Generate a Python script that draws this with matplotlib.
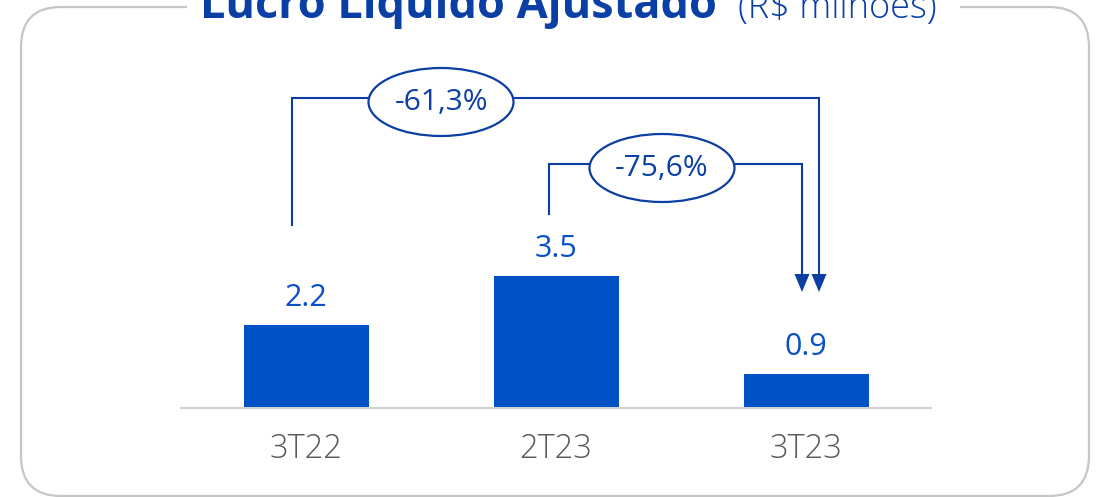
import matplotlib.pyplot as plt
from matplotlib.patches import FancyBboxPatch, Ellipse, Polygon, Rectangle

categories = ['3T22', '2T23', '3T23']
values = [2.2, 3.5, 0.9]
value_labels = ['2.2', '3.5', '0.9']
changes = ['-61,3%', '-75,6%']

W, H = 1099, 497
BAR = '#0050C6'
LINE = '#0B3FA3'
TXT = '#0A50C8'
GREY = '#5A5A5A'
FONT = 'Open Sans'

fig = plt.figure(figsize=(W / 100, H / 100), dpi=100)

# overlay axes in pixel coordinates for the frame and brackets
ov = fig.add_axes([0, 0, 1, 1])
ov.set_xlim(0, W)
ov.set_ylim(H, 0)
ov.axis('off')

frame = FancyBboxPatch((21, 7), 1068, 489, boxstyle='round,pad=0,rounding_size=40',
                       fc='none', ec='#C6C6C6', lw=1.6)
ov.add_patch(frame)
ov.add_patch(Rectangle((187, 0), 773, 20, fc='white', ec='none', zorder=2))

ov.text(200, 18, 'Lucro Líquido Ajustado', family=FONT, weight='bold',
        fontsize=32.5, color='#0A3FA6', ha='left', va='baseline', zorder=3)
ov.text(738, 18, '(R$ milhoes)', family=FONT, weight='light',
        fontsize=26, color='#0A3FA6', ha='left', va='baseline', zorder=3)

# bar axes: baseline at y=408 px, from x=181 to 931 px
top_px = 100
ax = fig.add_axes([181 / W, (H - 408) / H, 750 / W, (408 - top_px) / H])
ax.set_xlim(-0.5, 2.5)
ax.set_ylim(0, (408 - top_px) / 37.7)
ax.bar(range(len(values)), values, width=0.5, color=BAR)
for i, (v, lab) in enumerate(zip(values, value_labels)):
    ax.annotate(lab, (i, v), xytext=(0, 9), textcoords='offset points',
                ha='center', va='bottom', fontsize=22, color=TXT, family=FONT)
ax.set_xticks(range(len(categories)))
ax.set_xticklabels(categories, fontsize=23.5, color=GREY, family=FONT, weight='light')
ax.tick_params(axis='x', length=0, pad=18)
ax.set_yticks([])
for s in ['top', 'left', 'right']:
    ax.spines[s].set_visible(False)
ax.spines['bottom'].set_color('#D0D0D0')
ax.spines['bottom'].set_linewidth(1.5)
ax.patch.set_alpha(0)


def bracket(x0, y_start, y_top, x1, y_tip, text, cx):
    ov.plot([x0, x0, x1, x1], [y_start, y_top, y_top, y_tip - 17], color=LINE, lw=1.5,
            solid_joinstyle='miter', zorder=4)
    ov.add_patch(Polygon([(x1 - 7.5, y_tip - 18), (x1 + 7.5, y_tip - 18), (x1, y_tip)],
                         closed=True, fc=LINE, ec='none', zorder=4))
    ov.add_patch(Ellipse((cx, y_top + 4), 145, 68, fc='white', ec=LINE, lw=1.6, zorder=5))
    ov.text(cx, y_top + 4, text, ha='center', va='center', fontsize=21.5, color=LINE,
            family=FONT, zorder=6)


bracket(292, 225, 98, 819, 292, changes[0], 441)
bracket(549, 214, 164, 802, 292, changes[1], 662)

fig.savefig('out.png', dpi=100)
